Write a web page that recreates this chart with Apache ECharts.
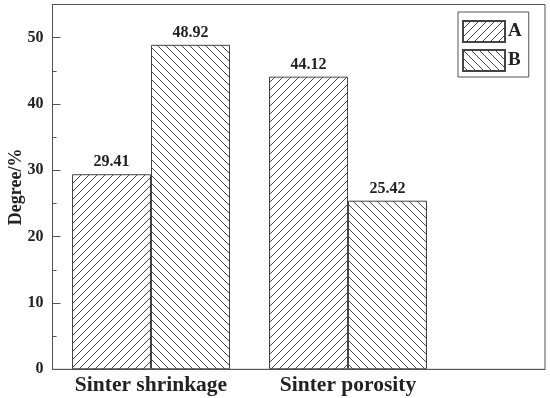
<!DOCTYPE html>
<html><head><meta charset="utf-8">
<script src="https://cdn.jsdelivr.net/npm/echarts@6/dist/echarts.min.js"></script>
<style>html,body{margin:0;padding:0;background:#fff}#c{width:550px;height:398px}</style>
</head><body><div id="c"></div>
<script>
const categories = ['Sinter shrinkage', 'Sinter porosity'];
const categoryPositions = [1, 2];
const seriesNames = ['A', 'B'];
const valuesA = [29.41, 44.12];
const valuesB = [48.92, 25.42];
const yTicks = [0, 10, 20, 30, 40, 50];

function hatch(dir) {
  const s = 8;
  const c = document.createElement('canvas');
  c.width = s; c.height = s;
  const g = c.getContext('2d');
  g.fillStyle = '#fff'; g.fillRect(0, 0, s, s);
  g.strokeStyle = '#444'; g.lineWidth = 1;
  g.beginPath();
  if (dir === '/') {
    g.moveTo(-2, s + 2); g.lineTo(s + 2, -2);
    g.moveTo(-2, 2); g.lineTo(2, -2);
    g.moveTo(s - 2, s + 2); g.lineTo(s + 2, s - 2);
  } else {
    g.moveTo(-2, -2); g.lineTo(s + 2, s + 2);
    g.moveTo(s - 2, -2); g.lineTo(s + 2, 2);
    g.moveTo(-2, s - 2); g.lineTo(2, s + 2);
  }
  g.stroke();
  return { image: c, repeat: 'repeat' };
}

const font = 'Liberation Serif';
const chart = echarts.init(document.getElementById('c'));
const mk = (name, vals, dir) => ({
  name: name,
  type: 'bar',
  barWidth: 79,
  barGap: '0%',
  data: vals.map((v, i) => [categoryPositions[i], v]),
  itemStyle: { color: hatch(dir), borderColor: '#444', borderWidth: 1 },
  label: { show: true, position: 'top', distance: 4, fontFamily: font, fontWeight: 'bold', fontSize: 16, color: '#222',
    formatter: p => p.value[1].toFixed(2) }
});
chart.setOption({
  animation: false,
  grid: { left: 52.5, right: 5, top: 4.5, bottom: 28.7, show: true, borderColor: '#555', borderWidth: 1,
    containLabel: false, outerBoundsMode: 'none' },
  legend: {
    orient: 'vertical', left: 458, top: 12,
    data: seriesNames,
    itemWidth: 42, itemHeight: 21, itemGap: 6,
    padding: [8, 7, 5, 4],
    borderColor: '#555', borderWidth: 1,
    icon: 'rect',
    textStyle: { fontFamily: font, fontWeight: 'bold', fontSize: 19, color: '#222', padding: [0, 0, 0, -2] }
  },
  xAxis: {
    type: 'value', min: 0.5, max: 3.0,
    splitLine: { show: false },
    axisLine: { lineStyle: { color: '#555' } },
    axisTick: { show: false },
    axisLabel: { customValues: categoryPositions, formatter: v => categories[categoryPositions.indexOf(v)] || '',
      fontFamily: font, fontWeight: 'bold', fontSize: 21.5, color: '#222', margin: 5 }
  },
  yAxis: {
    type: 'value', min: 0, max: 55, interval: 10,
    name: 'Degree/%', nameLocation: 'middle', nameGap: 27, nameMoveOverlap: false,
    nameTextStyle: { fontFamily: font, fontWeight: 'bold', fontSize: 18, color: '#222' },
    splitLine: { show: false },
    axisLine: { show: true, lineStyle: { color: '#555' } },
    axisTick: { show: true, inside: true, length: 8, lineStyle: { color: '#555' } },
    minorTick: { show: true, splitNumber: 2, length: 4, lineStyle: { color: '#555' } },
    axisLabel: { fontFamily: font, fontWeight: 'bold', fontSize: 16, color: '#222', margin: 9,
      formatter: v => yTicks.includes(v) ? String(v) : '' }
  },
  series: [mk(seriesNames[0], valuesA, '/'), mk(seriesNames[1], valuesB, '\\')]
});
</script></body></html>
